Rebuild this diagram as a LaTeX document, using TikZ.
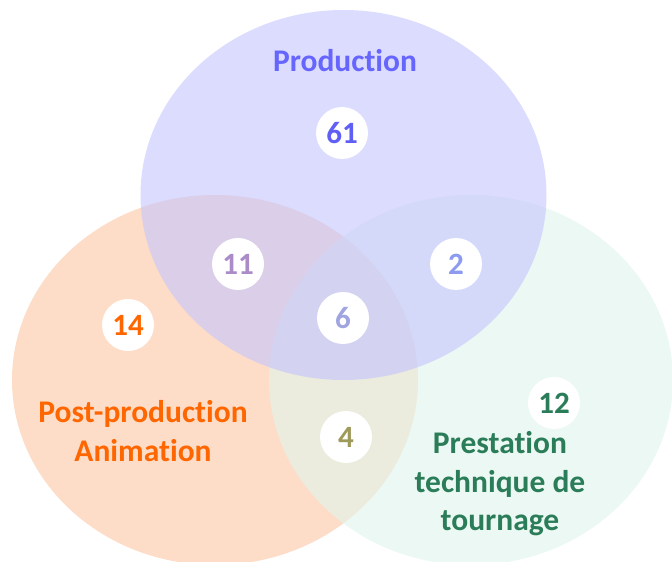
\documentclass[tikz,border=0pt]{standalone}
\usepackage{fontspec}
\setmainfont{Carlito}[Ligatures={NoCommon}]
\usetikzlibrary{positioning}
\definecolor{prodfill}{RGB}{196,196,255}
\definecolor{postfill}{RGB}{253,221,200}
\definecolor{prestfill}{RGB}{225,244,236}
\definecolor{prodtext}{RGB}{102,102,255}
\definecolor{posttext}{RGB}{255,102,0}
\definecolor{presttext}{RGB}{42,125,88}

\begin{document}
\begin{tikzpicture}[x=1pt,y=1pt,
 num/.style={circle,fill=white,minimum size=52pt,inner sep=0pt,
  font=\fontsize{31}{38}\selectfont\bfseries},
 setlabel/.style={align=center,font=\fontsize{31.5}{38.5}\selectfont\bfseries}]
\useasboundingbox (0,0) rectangle (672,562);
% the three sets
\fill[postfill] (215,182) ellipse [x radius=203, y radius=185];
\fill[prestfill,fill opacity=.63] (471,182) ellipse [x radius=202, y radius=185];
\fill[prodfill,fill opacity=.6] (343.5,367) ellipse [x radius=203, y radius=185];
% set names
\node[setlabel,text=prodtext] (prod) at (345,501) {Production};
\node[setlabel,text=posttext] (post) at (143,131) {Post-production\\Animation};
\node[setlabel,text=presttext] (prest) at (500,78) {Prestation\\technique de\\tournage};
% counts
\node[num,text={rgb,255:red,95;green,95;blue,245}] (n61) at (342,429) {61};
\node[num,text={rgb,255:red,170;green,140;blue,200}] (n11) at (238,298) {11};
\node[num,text={rgb,255:red,140;green,155;blue,240}] (n2) at (456,298) {2};
\node[num,text={rgb,255:red,160;green,165;blue,225}] (n6) at (343,244) {6};
\node[num,text=posttext] (n14) at (128,237) {14};
\node[num,text={rgb,255:red,158;green,154;blue,90}] (n4) at (346,125) {4};
\node[num,text=presttext] (n12) at (554,159) {12};
\end{tikzpicture}
\end{document}
